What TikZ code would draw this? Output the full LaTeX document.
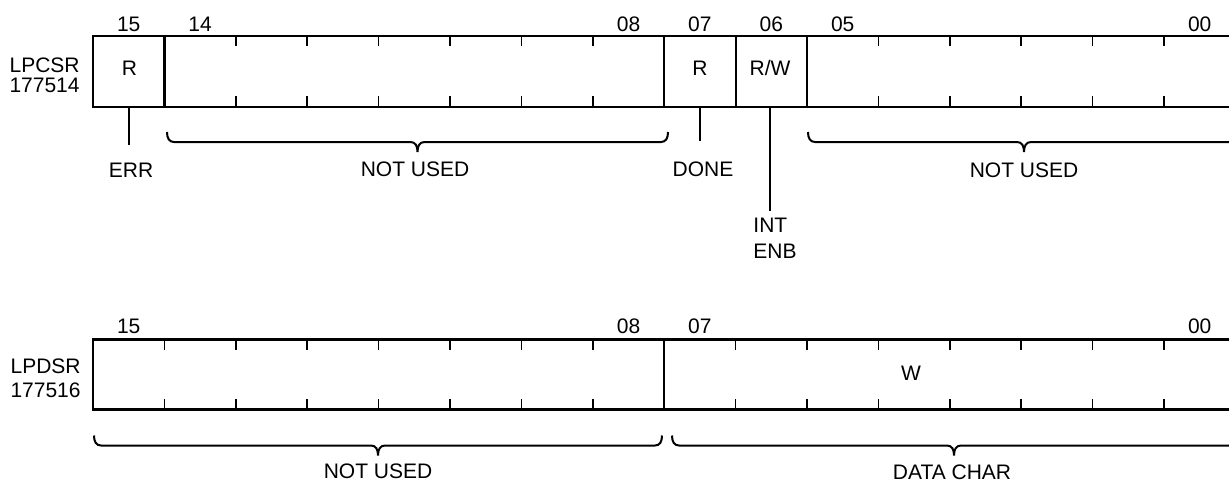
\documentclass[tikz,border=0pt]{standalone}
\usepackage{fontspec}
\setmainfont{Liberation Sans}
\usetikzlibrary{positioning}

\newcommand{\bitw}{71.4}
% brace under a group of bits: left x, right x, y of its ends
\newcommand{\bitbrace}[3]{%
  \pgfmathsetmacro{\bm}{(#1+#2)/2}%
  \draw[bracepath] (#1,#3) .. controls (#1,{#3+6}) and ({#1+2},{#3+10}) .. ({#1+7},{#3+10})
    -- ({\bm-7},{#3+10}) .. controls ({\bm-2},{#3+10}) and (\bm,{#3+14}) .. (\bm,{#3+20})
    .. controls (\bm,{#3+14}) and ({\bm+2},{#3+10}) .. ({\bm+7},{#3+10})
    -- ({#2-7},{#3+10}) .. controls ({#2-2},{#3+10}) and (#2,{#3+6}) .. (#2,#3);}

\begin{document}
\begin{tikzpicture}[
    x=0.5pt, y=-0.5pt,
    every node/.style={inner sep=0pt, font=\fontsize{10.5}{10.25}\selectfont},
    frame/.style={line width=1.1pt},
    tickmark/.style={line width=0.75pt},
    lead/.style={line width=1pt},
    bracepath/.style={line width=1pt},
    reglabel/.style={align=right, anchor=east}
]
    \useasboundingbox (0,0) rectangle (1229,483);
    \clip (0,0) rectangle (1229,483);

    % LPCSR
    \node[reglabel] (csrname) at (80,75.25) {LPCSR\\177514};
    \draw[frame] (93,36) rectangle (1236,107);
    \foreach \k in {1,8,9,10}
        \draw[frame] ({93+\k*\bitw},36) -- ({93+\k*\bitw},107);
    \foreach \k in {2,3,4,5,6,7,11,12,13,14,15} {
        \draw[tickmark] ({93+\k*\bitw},36) -- ({93+\k*\bitw},46);
        \draw[tickmark] ({93+\k*\bitw},107) -- ({93+\k*\bitw},96);
    }
    \foreach \b/\lbl in {15/15,14/14,8/08,7/07,6/06,5/05,0/00}
        \node (csrnum\b) at ({93+(15.5-\b)*\bitw},24) {\lbl};
    \node (csr15) at (129.5,68) {R};
    \node (csr7) at (700,68) {R};
    \node (csr6) at (770,68) {R/W};

    \coordinate (errtop) at ({93+0.5*\bitw},107);
    \coordinate (errend) at ({93+0.5*\bitw},145);
    \coordinate (donetop) at ({93+8.5*\bitw},107);
    \coordinate (doneend) at ({93+8.5*\bitw},141);
    \coordinate (inttop) at (770,107);
    \coordinate (intend) at (770,211);
    \draw[lead] (errtop) -- (errend);
    \draw[lead] (donetop) -- (doneend);
    \draw[lead] (inttop) -- (intend);
    \node (err) at (131,170) {ERR};
    \node (done) at (703,169) {DONE};
    \node[align=left, anchor=west] (intenb) at (753,238.5) {INT\\[3pt]ENB};

    \bitbrace{167}{668}{132}
    \bitbrace{808}{1240}{132}
    \node (csrfree1) at (415,169) {NOT USED};
    \node (csrfree2) at (1024,170) {NOT USED};

    % LPDSR
    \node[reglabel] (dsrname) at (81,378.5) {LPDSR\\[2pt]177516};
    \draw[frame] (93,339.5) rectangle (1236,409.5);
    \draw[frame] ({93+8*\bitw},339.5) -- ({93+8*\bitw},409.5);
    \foreach \k in {1,2,3,4,5,6,7,9,10,11,12,13,14,15} {
        \draw[tickmark] ({93+\k*\bitw},339.5) -- ({93+\k*\bitw},349.5);
        \draw[tickmark] ({93+\k*\bitw},409.5) -- ({93+\k*\bitw},398.5);
    }
    \foreach \b/\lbl in {15/15,8/08,7/07,0/00}
        \node (dsrnum\b) at ({93+(15.5-\b)*\bitw},326) {\lbl};
    \node (dsrdata) at (911,373) {W};

    \bitbrace{94}{662}{435.5}
    \bitbrace{672}{1236}{435.5}
    \node (dsrfree) at (378,471) {NOT USED};
    \node (dsrchar) at (952,472) {DATA CHAR};
\end{tikzpicture}
\end{document}
